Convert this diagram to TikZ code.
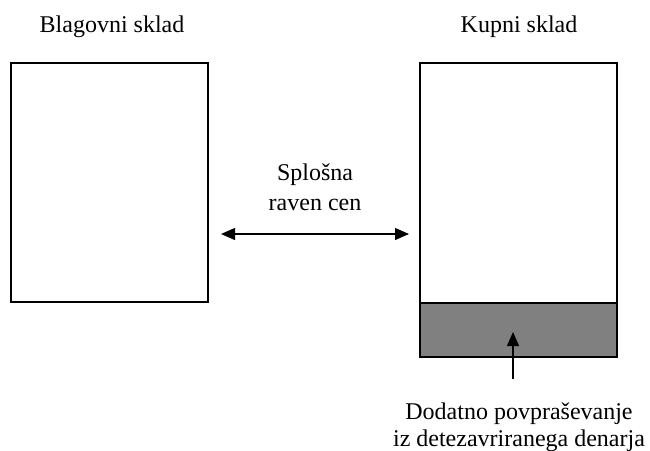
\documentclass[tikz,border=0pt]{standalone}
\usepackage{fontspec}
\setmainfont{Liberation Serif}
\usetikzlibrary{arrows.meta}
\begin{document}
\begin{tikzpicture}[x=1pt,y=-1pt,
  box/.style={draw, line width=1.2pt, inner sep=0pt, outer sep=0pt},
  lbl/.style={font=\fontsize{24}{30}\selectfont, align=center, anchor=base, inner sep=0pt},
  lbltight/.style={font=\fontsize{24}{27}\selectfont, align=center, anchor=base, inner sep=0pt},
  arr/.style={line width=1.2pt, -{Triangle[length=14pt,width=12pt]}},
  darr/.style={line width=1.2pt, {Triangle[length=14pt,width=12pt]}-{Triangle[length=14pt,width=12pt]}}]
\useasboundingbox (0,0) rectangle (650,450);
% titles
\node[lbl] (tblag) at (112,32) {Blagovni sklad};
\node[lbl] (tkup) at (519,32) {Kupni sklad};
% boxes
\node[box, minimum width=197pt, minimum height=239pt] (blag) at (109.5,182.5) {};
\node[box, minimum width=197pt, minimum height=240pt] (kupni) at (518.5,183) {};
\node[box, fill={rgb,255:red,128;green,128;blue,128}, minimum width=197pt, minimum height=54pt] (dodatno) at (518.5,330) {};
% middle label and arrow
\node[lbl] (raven) at (315,210) {Splošna\\raven cen};
\coordinate (aL) at (221,234);
\coordinate (aR) at (409,234);
\draw[darr] (aL) -- (aR);
% bottom label and arrow
\node[lbltight] (dtxt) at (519,446) {Dodatno povpraševanje\\iz detezavriranega denarja};
\coordinate (bT) at (513,379);
\coordinate (bH) at (513,332);
\draw[arr] (bT) -- (bH);
\end{tikzpicture}
\end{document}
